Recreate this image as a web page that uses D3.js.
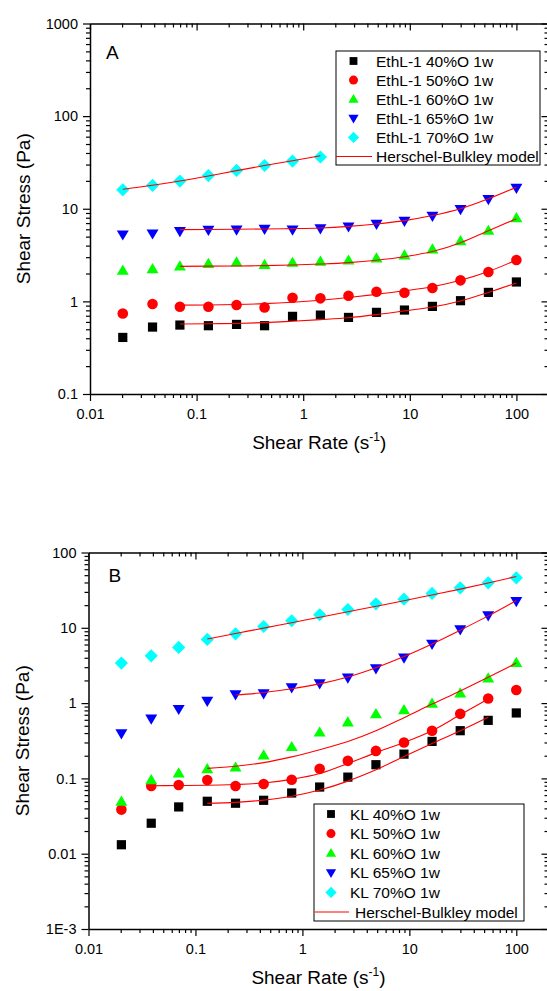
<!DOCTYPE html>
<html><head><meta charset="utf-8">
<script src="https://cdn.jsdelivr.net/npm/d3@7"></script>
<style>
body{margin:0;background:#fff}
svg{display:block}
text{font-family:"Liberation Sans",Arial,Helvetica,sans-serif;fill:#000}
</style>
</head><body>
<svg id="c" width="547" height="991"></svg>
<script>
// ---------- DATA ----------
const shearRate = [0.0203, 0.0386, 0.0697, 0.129, 0.237, 0.434, 0.794, 1.45, 2.66, 4.87, 8.91, 16.3, 29.9, 54.6, 100];

const xTickLabels = ["0.01", "0.1", "1", "10", "100"];
const yTickLabelsA = ["0.1", "1", "10", "100", "1000"];
const yTickLabelsB = ["1E-3", "0.01", "0.1", "1", "10", "100"];

const seriesNamesA = ["EthL-1 40%O 1w", "EthL-1 50%O 1w", "EthL-1 60%O 1w", "EthL-1 65%O 1w", "EthL-1 70%O 1w"];
const seriesNamesB = ["KL 40%O 1w", "KL 50%O 1w", "KL 60%O 1w", "KL 65%O 1w", "KL 70%O 1w"];
const modelName = "Herschel-Bulkley model";

// Panel A measured shear stress (Pa)
const ethl40 = [0.408, 0.528, 0.555, 0.546, 0.564, 0.546, 0.689, 0.711, 0.671, 0.761, 0.806, 0.883, 1.017, 1.25, 1.62];
const ethl50 = [0.741, 0.936, 0.876, 0.876, 0.913, 0.861, 1.096, 1.078, 1.152, 1.272, 1.241, 1.394, 1.687, 2.075, 2.80];
const ethl60 = [2.15, 2.24, 2.39, 2.55, 2.64, 2.49, 2.62, 2.69, 2.77, 2.92, 3.14, 3.65, 4.49, 5.80, 7.96];
const ethl65 = [5.26, 5.39, 5.71, 5.90, 5.95, 6.05, 5.95, 6.11, 6.42, 6.86, 7.39, 8.37, 9.88, 12.7, 16.8];
const ethl70 = [16.0, 17.9, 19.9, 22.8, 25.9, 29.3, 32.7, 36.2, null, null, null, null, null, null, null];

// Panel A Herschel-Bulkley fits
const ethlFit40 = [null, null, 0.570, 0.573, 0.578, 0.590, 0.610, 0.635, 0.666, 0.72, 0.79, 0.87, 1.01, 1.25, 1.58];
const ethlFit50 = [null, null, 0.91, 0.915, 0.925, 0.945, 0.98, 1.03, 1.10, 1.19, 1.30, 1.44, 1.69, 2.1, 2.8];
const ethlFit60 = [null, null, 2.39, 2.40, 2.41, 2.43, 2.47, 2.53, 2.62, 2.78, 3.03, 3.45, 4.3, 5.8, 7.8];
const ethlFit65 = [null, null, 5.95, 5.97, 6.0, 6.05, 6.1, 6.2, 6.45, 6.85, 7.45, 8.45, 10.0, 12.8, 17.1];
const ethlFit70 = [16.2, 17.9, 19.9, 22.6, 25.8, 29.3, 33.0, 37.3, null, null, null, null, null, null, null];

// Panel B measured shear stress (Pa)
const kl40 = [0.01315, 0.0254, 0.0418, 0.0497, 0.0468, 0.0512, 0.064, 0.0768, 0.104, 0.152, 0.210, 0.31, 0.43, 0.59, 0.74];
const kl50 = [0.0385, 0.0792, 0.0817, 0.0951, 0.0792, 0.0842, 0.096, 0.134, 0.171, 0.232, 0.30, 0.43, 0.72, 1.15, 1.49];
const kl60 = [0.0492, 0.0951, 0.117, 0.133, 0.140, 0.203, 0.262, 0.408, 0.555, 0.715, 0.807, 0.99, 1.35, 2.13, 3.43];
const kl65 = [0.396, 0.619, 0.832, 1.07, 1.30, 1.34, 1.61, 1.82, 2.17, 2.89, 4.0, 6.08, 9.5, 14.6, 22.6];
const kl70 = [3.40, 4.25, 5.49, 7.01, 8.32, 10.4, 12.4, 14.9, 17.5, 20.8, 24.0, 28.6, 34.0, 39.6, 46.1];

// Panel B Herschel-Bulkley fits
const klFit40 = [null, null, null, 0.0466, 0.048, 0.0515, 0.058, 0.070, 0.092, 0.13, 0.195, 0.29, 0.43, 0.65, null];
const klFit50 = [null, 0.080, 0.0805, 0.081, 0.083, 0.087, 0.097, 0.116, 0.158, 0.22, 0.30, 0.43, 0.70, 1.13, null];
const klFit60 = [null, null, null, 0.136, 0.145, 0.162, 0.193, 0.24, 0.309, 0.43, 0.64, 0.97, 1.45, 2.2, 3.4];
const klFit65 = [null, null, null, null, 1.28, 1.38, 1.55, 1.80, 2.22, 2.95, 4.15, 6.1, 9.3, 14.4, 23.0];
const klFit70 = [null, null, null, 7.1, 8.4, 9.9, 11.7, 13.8, 16.3, 19.3, 22.9, 27.3, 32.6, 39.3, 48.0];

const colors = ["#000000", "#ff0000", "#00ff00", "#0000ff", "#00ffff"];
const shapes = ["square", "circle", "triangle", "invtriangle", "diamond"];
const fitColor = "#ff0000";

// ---------- DRAWING ----------
const svg = d3.select("#c");
const FONT = 14.5;
const LEGEND_FONT = 15.5;

function markerPath(shape, s) {
  const p = d3.path();
  if (shape === "square") { p.rect(-4.6 * s, -4.6 * s, 9.2 * s, 9.2 * s); }
  else if (shape === "circle") { p.arc(0, 0, 5.3 * s, 0, 2 * Math.PI); }
  else if (shape === "triangle") { p.moveTo(0, -6 * s); p.lineTo(6 * s, 4.2 * s); p.lineTo(-6 * s, 4.2 * s); p.closePath(); }
  else if (shape === "invtriangle") { p.moveTo(0, 6 * s); p.lineTo(6 * s, -4.2 * s); p.lineTo(-6 * s, -4.2 * s); p.closePath(); }
  else if (shape === "diamond") { p.moveTo(0, -6.6 * s); p.lineTo(6.6 * s, 0); p.lineTo(0, 6.6 * s); p.lineTo(-6.6 * s, 0); p.closePath(); }
  return p.toString();
}

function logTicks(lo, hi) {
  const major = [], minor = [];
  for (let e = Math.floor(Math.log10(lo)); e <= Math.ceil(Math.log10(hi)); e++) {
    const b = Math.pow(10, e);
    if (b >= lo * 0.999 && b <= hi * 1.001) major.push(b);
    for (let k = 2; k <= 9; k++) { const v = k * b; if (v > lo * 1.001 && v < hi * 1.001) minor.push(v); }
  }
  return { major, minor };
}

function panel(cfg) {
  const g = svg.append("g");
  const x = d3.scaleLog().domain([0.01, 200]).range([cfg.left, cfg.right]);
  const y = d3.scaleLog().domain(cfg.yDomain).range([cfg.bottom, cfg.top]);
  const xt = logTicks(0.01, 200), yt = logTicks(cfg.yDomain[0], cfg.yDomain[1]);

  const style = sel => {
    sel.selectAll(".domain").attr("stroke", "#000").attr("stroke-width", 1.5);
    sel.selectAll(".tick line").attr("stroke", "#000").attr("stroke-width", 1.2);
    sel.selectAll("text").attr("font-size", FONT).attr("font-family", null);
  };
  const noDomain = sel => sel.select(".domain").remove();

  // bottom
  g.append("g").attr("transform", `translate(0,${cfg.bottom})`)
    .call(d3.axisBottom(x).tickValues(xt.minor).tickSize(4).tickSizeOuter(0).tickFormat("")).call(noDomain).call(style);
  g.append("g").attr("transform", `translate(0,${cfg.bottom})`)
    .call(d3.axisBottom(x).tickValues(xt.major).tickSize(7).tickSizeOuter(0).tickPadding(7.5)
      .tickFormat((d, i) => xTickLabels[i])).call(style);
  // top (inward)
  g.append("g").attr("transform", `translate(0,${cfg.top})`)
    .call(d3.axisTop(x).tickValues(xt.minor).tickSize(-4).tickSizeOuter(0).tickFormat("")).call(noDomain).call(style);
  g.append("g").attr("transform", `translate(0,${cfg.top})`)
    .call(d3.axisTop(x).tickValues(xt.major).tickSize(-7).tickSizeOuter(0).tickFormat("")).call(style);
  // left
  g.append("g").attr("transform", `translate(${cfg.left},0)`)
    .call(d3.axisLeft(y).tickValues(yt.minor).tickSize(4).tickSizeOuter(0).tickFormat("")).call(noDomain).call(style);
  g.append("g").attr("transform", `translate(${cfg.left},0)`)
    .call(d3.axisLeft(y).tickValues(yt.major).tickSize(7).tickSizeOuter(0).tickPadding(5)
      .tickFormat((d, i) => cfg.yLabels[i])).call(style);
  // right (inward)
  g.append("g").attr("transform", `translate(${cfg.right},0)`)
    .call(d3.axisRight(y).tickValues(yt.minor).tickSize(-4).tickSizeOuter(0).tickFormat("")).call(noDomain).call(style);
  g.append("g").attr("transform", `translate(${cfg.right},0)`)
    .call(d3.axisRight(y).tickValues(yt.major).tickSize(-7).tickSizeOuter(0).tickFormat("")).call(style);

  // markers
  cfg.series.forEach((vals, si) => {
    const pts = vals.map((v, i) => ({ x: shearRate[i], y: v })).filter(d => d.y != null);
    g.append("g").selectAll("path").data(pts).join("path")
      .attr("transform", d => `translate(${x(d.x)},${y(d.y)})`)
      .attr("d", markerPath(shapes[si], 1))
      .attr("fill", colors[si]).attr("stroke", "none");
  });
  // fit lines
  const line = d3.line().defined(d => d.y != null).x(d => x(d.x)).y(d => y(d.y)).curve(d3.curveMonotoneX);
  cfg.fits.forEach(vals => {
    const pts = vals.map((v, i) => ({ x: shearRate[i], y: v }));
    g.append("path").attr("d", line(pts)).attr("fill", "none").attr("stroke", fitColor).attr("stroke-width", 1.1);
  });

  // panel letter
  g.append("text").attr("x", cfg.letterX).attr("y", cfg.letterY).attr("font-size", 19).text(cfg.letter);

  // axis titles
  const xt0 = g.append("text").attr("x", (cfg.left + cfg.right) / 2).attr("y", cfg.bottom + 55)
    .attr("text-anchor", "middle").attr("font-size", 19);
  xt0.append("tspan").text("Shear Rate (s");
  xt0.append("tspan").attr("font-size", 12).attr("dy", -8).text("-1");
  xt0.append("tspan").attr("dy", 8).text(")");
  g.append("text").attr("transform", `translate(${cfg.left - 60},${(cfg.top + cfg.bottom) / 2}) rotate(-90)`)
    .attr("text-anchor", "middle").attr("font-size", 19).text("Shear Stress (Pa)");

  // legend
  const L = cfg.legend;
  g.append("rect").attr("x", L.x0).attr("y", L.y0).attr("width", L.x1 - L.x0).attr("height", L.y1 - L.y0)
    .attr("fill", "#fff").attr("stroke", "#000").attr("stroke-width", 1);
  cfg.names.forEach((nm, i) => {
    const cy = L.row0 + i * L.step;
    g.append("path").attr("transform", `translate(${L.symX},${cy})`).attr("d", markerPath(shapes[i], 0.85)).attr("fill", colors[i]);
    g.append("text").attr("x", L.textX).attr("y", cy + 5.5).attr("font-size", LEGEND_FONT).text(nm);
  });
  const cy = L.row0 + 5 * L.step;
  g.append("line").attr("x1", L.lineX0).attr("x2", L.lineX1).attr("y1", cy).attr("y2", cy)
    .attr("stroke", fitColor).attr("stroke-width", 1.1);
  g.append("text").attr("x", L.modelTextX).attr("y", cy + 5.5).attr("font-size", LEGEND_FONT).text(modelName);
}

panel({
  left: 90, right: 548.5, top: 23.5, bottom: 394, yDomain: [0.1, 1000], yLabels: yTickLabelsA,
  series: [ethl40, ethl50, ethl60, ethl65, ethl70],
  fits: [ethlFit40, ethlFit50, ethlFit60, ethlFit65, ethlFit70],
  letter: "A", letterX: 106, letterY: 58.5, names: seriesNamesA,
  legend: { x0: 336, x1: 540, y0: 51, y1: 165, row0: 61, step: 19.1, symX: 353.5, textX: 376,
            lineX0: 336, lineX1: 372, modelTextX: 376 }
});

panel({
  left: 88.5, right: 548.5, top: 552.5, bottom: 929, yDomain: [0.001, 100], yLabels: yTickLabelsB,
  series: [kl40, kl50, kl60, kl65, kl70],
  fits: [klFit40, klFit50, klFit60, klFit65, klFit70],
  letter: "B", letterX: 108.5, letterY: 582, names: seriesNamesB,
  legend: { x0: 314, x1: 524, y0: 804, y1: 921, row0: 814, step: 19.6, symX: 331, textX: 350,
            lineX0: 315, lineX1: 349, modelTextX: 355 }
});
</script>
</body></html>
